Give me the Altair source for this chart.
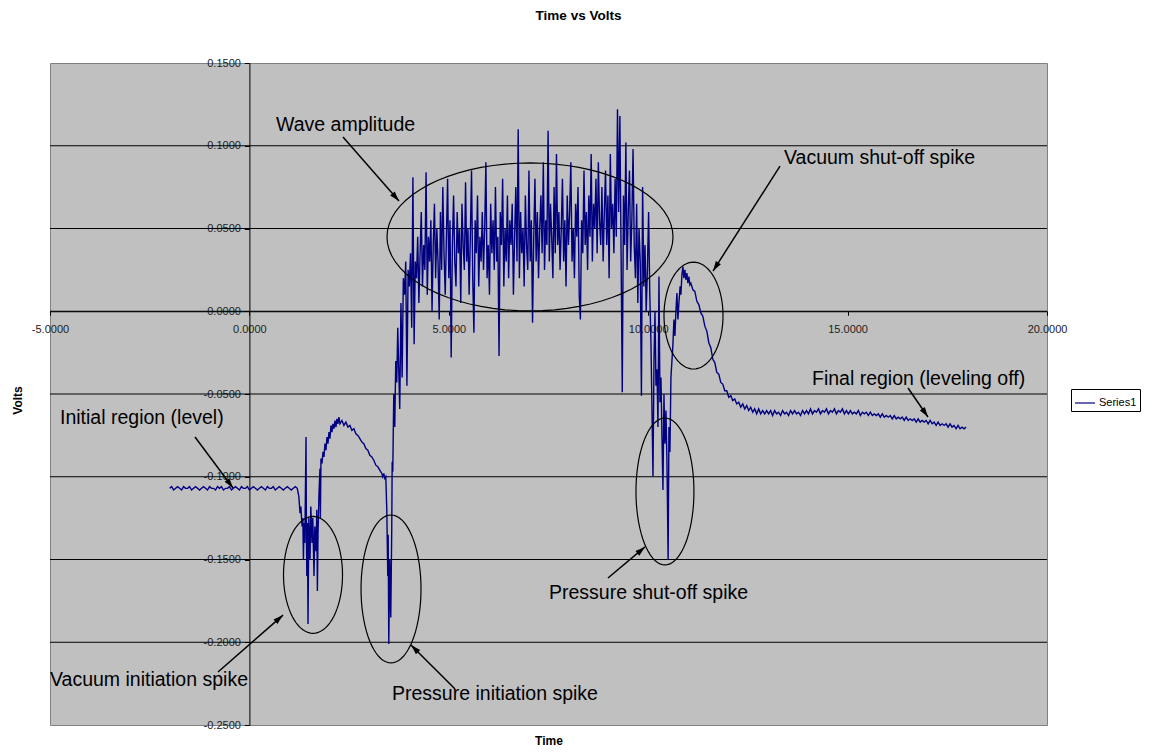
import math
import altair as alt
import pandas as pd

# ---------------- text ----------------
TITLE = "Time vs Volts"
X_TITLE = "Time"
Y_TITLE = "Volts"
SERIES = "Series1"

# ---------------- axes ----------------
X_DOMAIN = [-5, 20]
Y_DOMAIN = [-0.25, 0.15]
X_TICKS = [-5, 0, 5, 10, 15, 20]
Y_TICKS = [-0.25, -0.2, -0.15, -0.1, -0.05, 0.0, 0.05, 0.1, 0.15]
Y_GRID = [-0.2, -0.15, -0.1, -0.05, 0.0, 0.05, 0.1]

# ---------------- data (values in mV) ----------------
# initial level, sampled every 0.05 s starting at -2.0 s
initial_start, initial_step = -2.0, 0.05
initial_mv = [
    -107, -106, -108, -107, -106, -107, -108, -106, -107, -107,
    -106, -108, -107, -106, -107, -108, -107, -106, -107, -108,
    -106, -107, -107, -108, -106, -107, -106, -108, -107, -107,
    -106, -108, -107, -106, -107, -108, -106, -107, -107, -106,
    -108, -107, -106, -107, -108, -107, -106, -107, -108, -106,
    -107, -107, -106, -108, -107, -106, -107, -108, -107, -106,
    -107, -108, -107, -106,
]

# vacuum initiation spike, recovery hump and pressure initiation spike (time s, mV)
spike_pts = [
    (1.20, -107), (1.24, -112), (1.27, -122), (1.29, -118), (1.32, -130),
    (1.34, -125), (1.355, -150), (1.37, -128), (1.39, -140), (1.42, -76),
    (1.43, -135), (1.44, -160), (1.455, -128), (1.47, -189), (1.49, -125),
    (1.52, -150), (1.54, -118), (1.57, -140), (1.59, -125), (1.62, -160),
    (1.64, -130), (1.67, -145), (1.69, -120), (1.705, -169), (1.72, -135),
    (1.745, -110), (1.77, -95), (1.78, -125), (1.795, -89), (1.82, -92),
    (1.845, -85), (1.87, -88), (1.895, -80), (1.92, -84), (1.945, -76),
    (1.97, -80), (1.995, -73), (2.02, -77), (2.045, -69), (2.07, -73),
    (2.095, -68), (2.12, -71), (2.145, -66), (2.17, -70), (2.195, -65),
    (2.22, -68), (2.245, -64), (2.27, -68), (2.32, -66), (2.37, -69),
    (2.42, -67), (2.47, -70), (2.52, -69), (2.57, -72), (2.62, -71),
    (2.67, -74), (2.72, -75), (2.77, -77), (2.82, -79), (2.87, -80),
    (2.92, -83), (2.97, -84), (3.02, -87), (3.07, -88), (3.12, -90),
    (3.17, -93), (3.22, -94), (3.27, -96), (3.32, -98), (3.345, -100),
    (3.37, -98), (3.395, -101), (3.42, -100), (3.445, -120), (3.47, -160),
    (3.48, -135), (3.495, -201), (3.52, -150), (3.545, -185), (3.57, -130),
    (3.58, -91), (3.595, -97), (3.62, -50), (3.645, -70), (3.67, -30),
    (3.695, -43), (3.72, -10), (3.745, -35), (3.77, -59),
]

# wave region, sampled every 0.03 s starting at 3.80 s
wave_start, wave_step = 3.80, 0.03
wave_mv = [
    5, -40, 20, 10, 30, -45, 25, 15, 35, -10,
    81, -20, 30, 20, 45, 5, 35, 60, 15, 40,
    25, 84, 10, 45, 30, 55, 0, 40, 65, 20,
    50, 30, -5, 60, 25, 75, 35, 10, 45, 80,
    20, 55, -28, 40, 70, 30, 15, 60, 35, 50,
    5, 65, 40, 25, 78, 30, 50, 10, 45, 85,
    20, -13, 55, 35, 70, 15, 45, 30, 60, 25,
    50, 90, 20, 40, 10, 65, 35, 55, 25, 75,
    30, 45, -27, 60, 40, 80, 15, 50, 30, 70,
    20, 55, 40, 65, 10, 45, 75, 30, 110, 20,
    60, 35, 50, 15, 70, 40, 25, 85, 30, 55,
    -7, 45, 80, 30, 60, 20, 50, 70, 35, 90,
    25, 55, 40, 109, 30, 65, 45, 20, 75, 35,
    95, 40, 60, 25, 50, 80, 30, 55, 15, 70,
    40, 60, 90, 30, 50, 20, 65, 45, 75, 10,
    -5, 55, 35, 85, 40, 60, 25, 70, 45, 95,
    30, 65, 50, 80, 35, 90, 55, 40, 75, 30,
    60, 85, 40, 70, 20, 95, 50, 65, 35, 80,
    45, 122, 60, 118, 35, -49, 70, 40, 102, 25,
    60, 85, 30, 55, 98, 40, 20, 65, 5, 50,
    30, -51, 75, 15, 40, 0, 25, 60, 10, -20,
]

# pressure shut-off spike and vacuum shut-off spike (time s, mV)
shutoff_pts = [
    (10.12, -100), (10.145, -30), (10.17, 0), (10.195, -45), (10.22, -35),
    (10.245, -70), (10.27, 21), (10.295, -55), (10.32, -40), (10.345, -75),
    (10.37, -108), (10.395, -50), (10.42, -80), (10.445, -60), (10.47, -90),
    (10.50, -150), (10.52, -70), (10.545, -85), (10.57, -40), (10.595, -30),
    (10.62, -20), (10.645, -5), (10.67, -15), (10.695, 0), (10.72, 11),
    (10.745, -5), (10.77, 5), (10.80, 15), (10.82, 10), (10.845, 22),
    (10.87, 27), (10.895, 20), (10.92, 25), (10.945, 19), (10.97, 23),
    (10.995, 17), (11.02, 21), (11.045, 16),
]

# final region, sampled every 0.05 s starting at 11.07 s
tail_start, tail_step = 11.07, 0.05
tail_mv = [
    17, 13, 12, 6, 4, -1, -3, -9, -12, -19,
    -22, -29, -31, -37, -38, -43, -44, -48, -48, -52,
    -51, -54, -53, -56, -55, -58, -56, -59, -57, -60,
    -58, -61, -59, -62, -59, -62, -60, -62, -60, -62,
    -60, -63, -60, -62, -61, -63, -60, -62, -61, -63,
    -60, -62, -60, -62, -61, -63, -60, -62, -60, -62,
    -59, -62, -60, -61, -59, -62, -60, -61, -59, -62,
    -60, -61, -59, -62, -60, -61, -59, -62, -60, -62,
    -60, -62, -61, -62, -60, -63, -61, -62, -61, -63,
    -61, -63, -62, -63, -62, -64, -62, -64, -63, -64,
    -63, -65, -63, -65, -64, -65, -64, -66, -64, -66,
    -65, -66, -65, -67, -65, -67, -66, -67, -66, -68,
    -66, -68, -67, -69, -67, -69, -68, -69, -68, -70,
    -68, -70, -69, -71, -69, -71, -70, -71, -70,
]

# ---------------- annotations (data coordinates) ----------------
note_text = [
    "Wave amplitude", "Vacuum shut-off spike", "Final region (leveling off)",
    "Initial region (level)", "Pressure shut-off spike",
    "Vacuum initiation spike", "Pressure initiation spike",
]
note_t = [0.667, 13.405, 14.107, -4.749, 7.513, -5.0, 3.576]
note_v = [0.1125, 0.0926, -0.0409, -0.0645, -0.1702, -0.2228, -0.2313]

# ellipses: centre time, centre volts, half-width (s), half-height (V)
ellipses = [
    (7.036, 0.0449, 3.586, 0.0447),
    (1.595, -0.1593, 0.740, 0.0353),
    (3.551, -0.1678, 0.752, 0.0447),
    (10.42, -0.1089, 0.727, 0.0444),
    (11.136, -0.0026, 0.740, 0.0323),
]

# arrows: from (t, v) to (t, v) where the head is
arrows = [
    (2.347, 0.1053, 3.751, 0.0666),
    (13.305, 0.0877, 11.625, 0.0243),
    (16.515, -0.0464, 17.016, -0.0639),
    (-1.364, -0.0760, -0.411, -0.1068),
    (8.992, -0.1612, 9.920, -0.1424),
    (-0.787, -0.2180, 0.843, -0.1836),
    (5.156, -0.2283, 4.052, -0.2017),
]

# ---------------- layout ----------------
W, H = 997, 662
PX_T = W / (X_DOMAIN[1] - X_DOMAIN[0])
PX_V = H / (Y_DOMAIN[1] - Y_DOMAIN[0])
FONT = "Liberation Sans"

# ---------------- build tables ----------------
rows = []
for i, mv in enumerate(initial_mv):
    rows.append((initial_start + i * initial_step, mv))
rows += spike_pts
for i, mv in enumerate(wave_mv):
    rows.append((wave_start + i * wave_step, mv))
rows += shutoff_pts
for i, mv in enumerate(tail_mv):
    rows.append((tail_start + i * tail_step, mv))
series_df = pd.DataFrame({
    "t": [r[0] for r in rows],
    "v": [r[1] / 1000.0 for r in rows],
    "series": SERIES,
})

ell_rows = []
for e, (cx, cy, rx, ry) in enumerate(ellipses):
    for k in range(73):
        th = 2 * math.pi * k / 72
        ell_rows.append({"id": e, "k": k, "t": cx + rx * math.cos(th), "v": cy + ry * math.sin(th)})
ell_df = pd.DataFrame(ell_rows)

arr_rows, head_rows = [], []
for (t1, v1, t2, v2) in arrows:
    arr_rows.append({"t": t1, "v": v1, "t2": t2, "v2": v2})
    dxp = (t2 - t1) * PX_T
    dyp = -(v2 - v1) * PX_V
    L = math.hypot(dxp, dyp)
    ux, uy = dxp / L, dyp / L
    ang = math.degrees(math.atan2(ux, -uy)) % 360
    head_rows.append({"t": t2 - 5 * ux / PX_T, "v": v2 + 5 * uy / PX_V, "ang": ang})
arr_df = pd.DataFrame(arr_rows)
head_df = pd.DataFrame(head_rows)

note_df = pd.DataFrame({"t": note_t, "v": note_v, "label": note_text})
grid_df = pd.DataFrame({"v": Y_GRID})

# ---------------- scales / axes ----------------
x_axis_y = H * (Y_DOMAIN[1] - 0) / (Y_DOMAIN[1] - Y_DOMAIN[0])   # pixel row of v = 0
y_axis_x = W * (0 - X_DOMAIN[0]) / (X_DOMAIN[1] - X_DOMAIN[0])   # pixel column of t = 0
x_off = x_axis_y - H
y_off = -y_axis_x
label_expr = "replace(format(datum.value, '.4f'), '\u2212', '-')"

xscale = alt.Scale(domain=X_DOMAIN, nice=False, zero=False)
yscale = alt.Scale(domain=Y_DOMAIN, nice=False, zero=False)
xaxis = alt.Axis(
    values=X_TICKS, offset=x_off, grid=False, domainColor="black", domainWidth=1,
    tickColor="black", tickSize=4, labelFontSize=11, labelColor="#222222", labelPadding=8,
    labelExpr=label_expr, labelFlush=False, labelOverlap=False, labelFont=FONT,
    title=X_TITLE, titleFont=FONT, titleFontSize=12, titleFontWeight="bold", titleColor="black",
    titleX=W / 2, titleY=(H + 15) - x_axis_y, titleBaseline="middle", titleAlign="center",
)
yaxis = alt.Axis(
    values=Y_TICKS, offset=y_off, grid=False, domainColor="black", domainWidth=1,
    tickColor="black", tickSize=5, labelFontSize=11, labelColor="#222222", labelPadding=4,
    labelExpr=label_expr, labelFlush=False, labelOverlap=False, labelFont=FONT,
    title=Y_TITLE, titleFont=FONT, titleFontSize=12, titleFontWeight="bold", titleColor="black",
    titleX=-33 - y_axis_x, titleY=337, titleAngle=270, titleBaseline="middle", titleAlign="center",
)


def X(field="t"):
    return alt.X(f"{field}:Q", scale=xscale, axis=xaxis)


def Y(field="v"):
    return alt.Y(f"{field}:Q", scale=yscale, axis=yaxis)


grid = alt.Chart(grid_df).mark_rule(color="black", strokeWidth=1).encode(y=Y())

line = alt.Chart(series_df).mark_line(strokeWidth=1.4).encode(
    x=X(), y=Y(),
    color=alt.Color(
        "series:N",
        scale=alt.Scale(domain=[SERIES], range=["#000080"]),
        legend=alt.Legend(
            orient="none", legendX=1021, legendY=326, title=None,
            strokeColor="black", fillColor="white", padding=3,
            symbolType="stroke", symbolSize=400, symbolStrokeWidth=1.2,
            labelFontSize=11, labelColor="black", labelFont=FONT, labelOffset=3,
        ),
    ),
)

ell = alt.Chart(ell_df).mark_line(color="black", strokeWidth=1.2).encode(
    x=X(), y=Y(), detail="id:N", order="k:Q"
)

shafts = alt.Chart(arr_df).mark_rule(color="black", strokeWidth=1.5).encode(
    x=X(), y=Y(), x2="t2:Q", y2="v2:Q"
)

heads = alt.Chart(head_df).mark_point(
    shape="M0,-1L-0.6,1L0.6,1Z", filled=True, color="black", size=100, opacity=1
).encode(x=X(), y=Y(), angle=alt.Angle("ang:Q", scale=None))

notes = alt.Chart(note_df).mark_text(
    align="left", baseline="middle", fontSize=19.5, font=FONT, color="black"
).encode(x=X(), y=Y(), text="label:N")

chart = alt.layer(grid, line, ell, shafts, heads, notes).properties(
    width=W, height=H,
    title=alt.Title(TITLE, fontSize=13.5, fontWeight="bold", font=FONT, color="black",
                    anchor="middle", frame="group", dx=30, offset=35),
    autosize=alt.AutoSizeParams(type="none"),
    padding={"left": 42, "top": 55, "right": 98, "bottom": 21},
).configure(font=FONT).configure_view(fill="#C0C0C0", stroke="#808080", strokeWidth=1)

chart.save("out.html", embed_options={"renderer": "svg", "actions": False})
